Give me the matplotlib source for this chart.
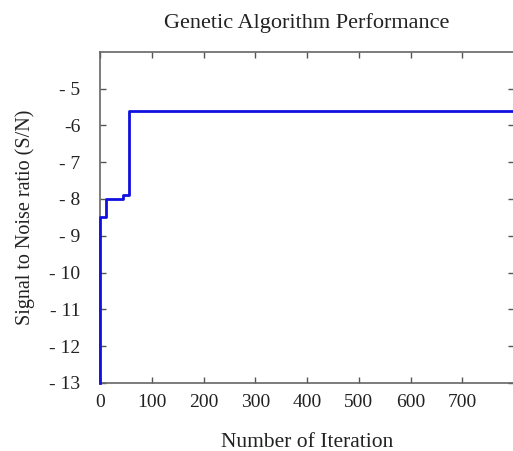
import numpy as np
import matplotlib.pyplot as plt

# Dados (curva em degraus do melhor valor S/N)
iteracoes = [0, 0, 12, 45, 56, 800]
sn = [-13.0, -8.5, -8.0, -7.9, -5.6, -5.6]

x_ticks = [0, 100, 200, 300, 400, 500, 600, 700]
y_ticks = [-5, -6, -7, -8, -9, -10, -11, -12, -13]
y_labels = ['- 5', '-6', '- 7', '- 8', '- 9', '- 10', '- 11', '- 12', '- 13']

plt.rcParams['font.family'] = ['Liberation Serif', 'DejaVu Serif']

fig = plt.figure(figsize=(5.13, 4.51), dpi=100)
ax = fig.add_axes([0.195, 0.151, 0.807, 0.734])

ax.step(iteracoes, sn, where='post', color='#1010e0', linewidth=2,
        zorder=5, clip_on=False)

ax.set_xlim(0, 800)
ax.set_ylim(-13, -4)
ax.set_xticks(x_ticks)
ax.set_xticklabels([str(t) for t in x_ticks])
ax.set_yticks(y_ticks)
ax.set_yticklabels(y_labels)
ax.tick_params(direction='in', length=4, width=1, colors='#555555',
               labelcolor='#222222', labelsize=14, top=True, right=True)
ax.tick_params(axis='x', pad=8)
ax.tick_params(axis='y', pad=14)
for s in ax.spines.values():
    s.set_color('#666666')
    s.set_linewidth(1.2)

ax.set_title('Genetic Algorithm Performance', fontsize=16, pad=17, color='#222222')
ax.set_xlabel('Number of Iteration', fontsize=15.5, labelpad=16, color='#222222')
ax.set_ylabel('Signal to Noise ratio (S/N)', fontsize=14.5, labelpad=10, color='#222222')

plt.savefig('out.png', dpi=100)
